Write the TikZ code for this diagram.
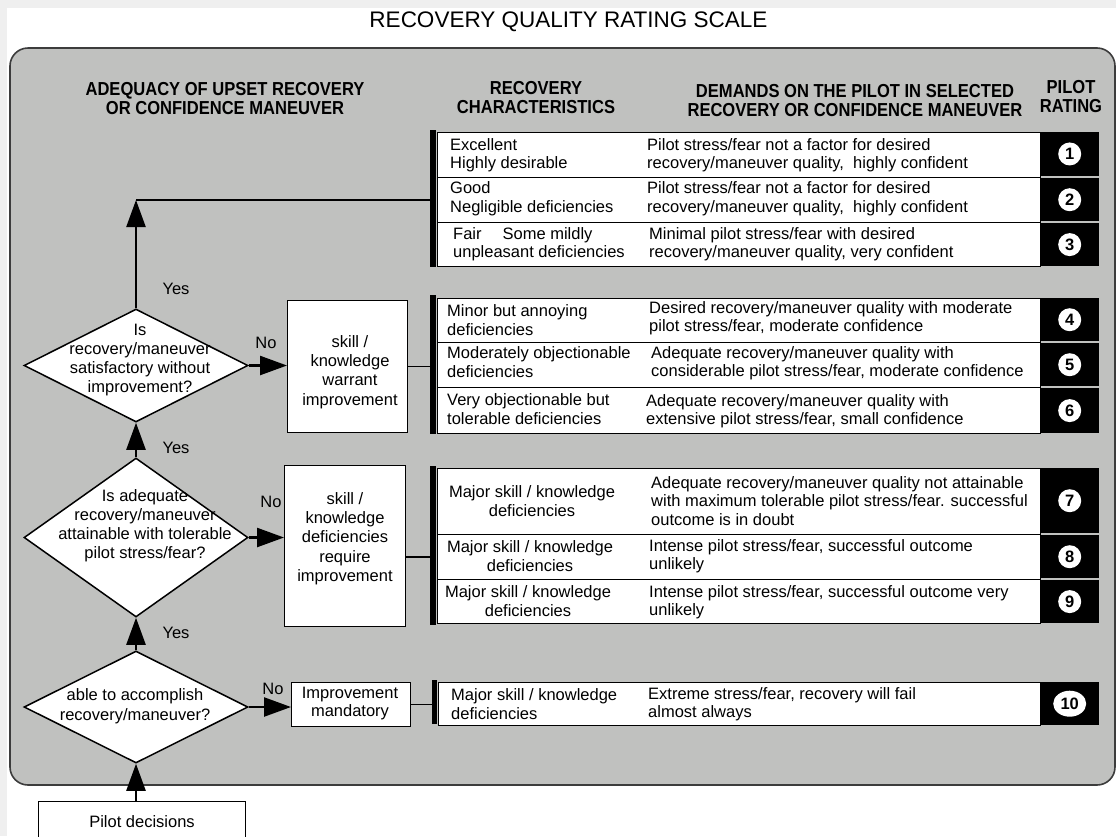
\documentclass[tikz,border=0pt]{standalone}
\usepackage{fontspec}
\setmainfont{Liberation Sans}
\newfontfamily\hdfont[FakeStretch=0.88]{Liberation Sans}
\usetikzlibrary{shapes.geometric,arrows.meta}
\definecolor{panelgray}{RGB}{192,193,191}
\definecolor{outergray}{RGB}{239,239,239}
\definecolor{edgegray}{RGB}{60,60,60}
\begin{document}
\begin{tikzpicture}[x=1pt,y=-1pt,
  txt/.style={font=\fontsize{16.5}{18.5}\selectfont, inner sep=0pt, align=left, anchor=west},
  ctxt/.style={font=\fontsize{16.5}{18.5}\selectfont, inner sep=0pt, align=center},
  btxt/.style={font=\fontsize{16.5}{19.3}\selectfont, inner sep=0pt, align=center},
  lab/.style={font=\fontsize{16.5}{18}\selectfont, inner sep=0pt},
  hdr/.style={font=\hdfont\bfseries\fontsize{18.8}{19}\selectfont, inner sep=0pt, align=center},
  rowbox/.style={draw=black, line width=1.3pt, fill=white, anchor=north west, inner sep=0pt, minimum width=603pt},
  kcell/.style={fill=black, anchor=north west, inner sep=0pt, minimum width=59pt},
  rnum/.style={circle, fill=white, inner sep=0pt, minimum size=23pt, font=\bfseries\fontsize{16.5}{16.5}\selectfont},
  bar/.style={fill=black, anchor=north west, inner sep=0pt, minimum width=6pt},
  box/.style={draw=black, line width=1.3pt, fill=white, anchor=north west, inner sep=0pt},
  dia/.style={diamond, draw=black, line width=1.5pt, fill=white, inner sep=0pt, minimum width=224pt},
  flow/.style={draw=black, line width=2.4pt},
  tip/.style={-{Triangle[length=27pt,width=19pt]}},
  link/.style={draw=black, line width=1.5pt}
]
\useasboundingbox (0,0) rectangle (1116,836);
\clip (0,0) rectangle (1116,836);
\fill[white] (0,0) rectangle (1116,836);
\fill[outergray] (0,0) rectangle (1116,8);
\fill[outergray] (0,0) rectangle (7,836);

% title
\node[font=\fontsize{22.5}{24}\selectfont, inner sep=0pt] (title) at (568.5,22) {RECOVERY QUALITY RATING SCALE};

% panel
\filldraw[fill=panelgray, draw=edgegray, line width=1.6pt, rounded corners=18pt] (10,48) rectangle (1115,785);

% headers
\node[hdr] (h1) at (225,99) {ADEQUACY OF UPSET RECOVERY\\OR CONFIDENCE MANEUVER};
\node[hdr] (h2) at (536,98) {RECOVERY\\CHARACTERISTICS};
\node[hdr] (h3) at (855,101) {DEMANDS ON THE PILOT IN SELECTED\\RECOVERY OR CONFIDENCE MANEUVER};
\node[hdr] (h4) at (1071,97) {PILOT\\RATING};

% ---------- group A ----------
\node[bar, minimum height=137pt] (bA) at (430,130) {};
\node[rowbox, minimum height=45pt] (r1) at (437,132) {};
\node[rowbox, minimum height=45pt] (r2) at (437,177) {};
\node[rowbox, minimum height=44pt] (r3) at (437,222) {};
\node[kcell, minimum height=43.5pt] (k1) at (1040,132) {};
\node[kcell, minimum height=43.4pt] (k2) at (1040,177.8) {};
\node[kcell, minimum height=43.2pt] (k3) at (1040,222.8) {};
\node[rnum] (c1) at (k1) {1};
\node[rnum] (c2) at (k2) {2};
\node[rnum] (c3) at (k3) {3};
\node[txt] (r1a) at (450,155) {Excellent\\Highly desirable};
\node[txt] (r1b) at (647,155) {Pilot stress/fear not a factor for desired\\recovery/maneuver quality,\ \ highly confident};
\node[txt] (r2a) at (450,198.5) {Good\\Negligible deficiencies};
\node[txt] (r2b) at (647,198.5) {Pilot stress/fear not a factor for desired\\recovery/maneuver quality,\ \ highly confident};
\node[txt] (r3a) at (453,244) {Fair\hspace{21pt}Some mildly\\unpleasant deficiencies};
\node[txt] (r3b) at (649,244) {Minimal pilot stress/fear with desired\\recovery/maneuver quality, very confident};

% ---------- group B ----------
\node[bar, minimum height=139pt] (bB) at (430,295) {};
\node[rowbox, minimum height=44pt] (r4) at (437,298) {};
\node[rowbox, minimum height=45pt] (r5) at (437,342) {};
\node[rowbox, minimum height=46pt] (r6) at (437,387) {};
\node[kcell, minimum height=43pt] (k4) at (1040,298) {};
\node[kcell, minimum height=43.4pt] (k5) at (1040,342.8) {};
\node[kcell, minimum height=45.2pt] (k6) at (1040,387.8) {};
\node[rnum] (c4) at (k4) {4};
\node[rnum] (c5) at (k5) {5};
\node[rnum] (c6) at (k6) {6};
\node[txt] (r4a) at (447,320) {Minor but annoying\\deficiencies};
\node[txt] (r4b) at (649,318) {Desired recovery/maneuver quality with moderate\\pilot stress/fear, moderate confidence};
\node[txt] (r5a) at (447,362) {Moderately objectionable\\deficiencies};
\node[txt] (r5b) at (651,363) {Adequate recovery/maneuver quality with\\considerable pilot stress/fear, moderate confidence};
\node[txt] (r6a) at (447,409) {Very objectionable but\\tolerable deficiencies};
\node[txt] (r6b) at (646,411) {Adequate recovery/maneuver quality with\\extensive pilot stress/fear, small confidence};

% ---------- group C ----------
\node[bar, minimum height=159pt] (bC) at (430,466) {};
\node[rowbox, minimum height=66pt] (r7) at (437,468) {};
\node[rowbox, minimum height=45pt] (r8) at (437,534) {};
\node[rowbox, minimum height=44pt] (r9) at (437,579) {};
\node[kcell, minimum height=65pt] (k7) at (1040,468) {};
\node[kcell, minimum height=43.4pt] (k8) at (1040,534.8) {};
\node[kcell, minimum height=43.2pt] (k9) at (1040,579.8) {};
\node[rnum] (c7) at (k7) {7};
\node[rnum] (c8) at (k8) {8};
\node[rnum] (c9) at (k9) {9};
\node[ctxt] (r7a) at (532,501) {Major skill / knowledge\\deficiencies};
\node[txt] (r7b) at (651,501) {Adequate recovery/maneuver quality not attainable\\with maximum tolerable pilot stress/fear. successful\\outcome is in doubt};
\node[ctxt] (r8a) at (530,556) {Major skill / knowledge\\deficiencies};
\node[txt] (r8b) at (649,556) {Intense pilot stress/fear, successful outcome\\unlikely};
\node[ctxt] (r9a) at (528,601) {Major skill / knowledge\\deficiencies};
\node[txt] (r9b) at (649,602) {Intense pilot stress/fear, successful outcome very\\unlikely};

% ---------- group D ----------
\node[bar, minimum height=44pt, minimum width=5pt] (bD) at (432,680) {};
\node[rowbox, minimum height=43pt, minimum width=602pt] (r10) at (438,682) {};
\node[kcell, minimum height=43pt] (k10) at (1040,682) {};
\node[ellipse, fill=white, inner sep=0pt, minimum width=33pt, minimum height=26pt, font=\bfseries\fontsize{16.5}{16.5}\selectfont] (c10) at (k10) {10};
\node[txt] (r10a) at (451,704) {Major skill / knowledge\\deficiencies};
\node[txt] (r10b) at (648,704) {Extreme stress/fear, recovery will fail\\almost always};

% ---------- decision diamonds ----------
\node[dia, minimum height=113pt] (d1) at (136,365.5) {};
\node[dia, minimum height=159pt] (d2) at (136,537.5) {};
\node[dia, minimum height=112pt] (d3) at (136,707) {};
\node[btxt, font=\fontsize{16.5}{19}\selectfont] (d1t) at (140,360) {Is\\recovery/maneuver\\satisfactory without\\improvement?};
\node[btxt, font=\fontsize{16.5}{19}\selectfont] (d2t) at (145,526) {Is adequate\\recovery/maneuver\\attainable with tolerable\\pilot stress/fear?};
\node[btxt, font=\fontsize{16.5}{19.5}\selectfont] (d3t) at (135,706) {able to accomplish\\recovery/maneuver?};

% ---------- improvement boxes ----------
\node[box, minimum width=120pt, minimum height=132pt] (b1) at (287,300) {};
\node[btxt] (b1t) at (350,372) {skill /\\knowledge\\warrant\\improvement};
\node[box, minimum width=121pt, minimum height=161pt] (b2) at (284,465) {};
\node[btxt] (b2t) at (345,538.5) {skill /\\knowledge\\deficiencies\\require\\improvement};
\node[box, minimum width=119pt, minimum height=44pt] (b3) at (291,682) {};
\node[btxt, font=\fontsize{16.5}{18}\selectfont] (b3t) at (350,704) {Improvement\\mandatory};

% pilot decisions
\node[box, minimum width=207pt, minimum height=60pt] (pd) at (38,801) {};
\node[lab] (pdt) at (142,822) {Pilot decisions};

% labels
\node[lab] (y1) at (176,289) {Yes};
\node[lab] (y2) at (176,448) {Yes};
\node[lab] (y3) at (176,633) {Yes};
\node[lab] (n1) at (266,343) {No};
\node[lab] (n2) at (271,502) {No};
\node[lab] (n3) at (273,689) {No};

% ---------- connectors ----------
\coordinate (cA) at (136,200);
\draw[flow] (cA) -- (cA -| bA.west);
\draw[flow, tip] (d1.north) -- (cA);
\draw[flow, tip] (d2.north) -- (d1.south);
\draw[flow, tip] (d3.north) -- (d2.south);
\draw[flow, tip] (d3.south |- pd.north) -- (d3.south);
\draw[flow, tip] (d1.east) -- (d1.east -| b1.west);
\draw[flow, tip] (d2.east) -- (d2.east -| b2.west);
\draw[flow, tip] (d3.east) -- (d3.east -| b3.west);
\draw[link] (b1.east) -- (b1.east -| bB.west);
\draw[link] (b2.east |- r8.west) -- (bC.west |- r8.west);
\draw[link] (b3.east) -- (b3.east -| bD.west);
\end{tikzpicture}
\end{document}
